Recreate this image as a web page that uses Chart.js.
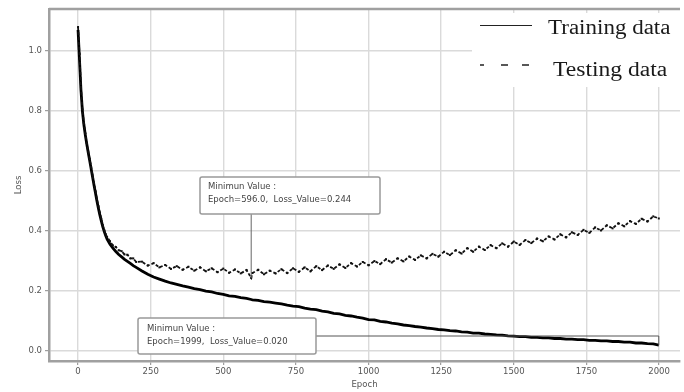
<!DOCTYPE html>
<html>
<head>
<meta charset="utf-8">
<script src="https://cdn.jsdelivr.net/npm/chart.js@4.4.1/dist/chart.umd.min.js"></script>
<style>
html,body{margin:0;padding:0;background:#fff;}
#wrap{width:684px;height:392px;position:relative;}
</style>
</head>
<body>
<div id="wrap"><canvas id="c" width="684" height="392"></canvas></div>
<script>
const epochs = [0,5,10,15,20,25,30,35,40,45,50,55,60,65,70,75,80,85,90,95,
  100,110,120,130,140,150,160,170,180,190,200,
  220,240,260,280,300,320,340,360,380,400,420,440,460,480,500,520,540,560,580,596,600,
  620,640,660,680,700,720,740,760,780,800,820,840,860,880,900,920,940,960,980,1000,
  1020,1040,1060,1080,1100,1120,1140,1160,1180,1200,1220,1240,1260,1280,1300,
  1320,1340,1360,1380,1400,1420,1440,1460,1480,1500,1520,1540,1560,1580,1600,
  1620,1640,1660,1680,1700,1720,1740,1760,1780,1800,1820,1840,1860,1880,1900,
  1920,1940,1960,1980,1999];

const trainLoss = [1.07,0.97,0.87,0.80,0.755,0.72,0.69,0.662,0.635,0.608,0.58,0.553,0.527,0.50,0.476,0.454,0.434,0.415,0.399,0.385,
  0.373,0.356,0.343,0.332,0.322,0.314,0.306,0.299,0.292,0.285,0.279,
  0.267,0.256,0.247,0.240,0.233,0.227,0.222,0.217,0.213,0.208,0.205,0.200,0.197,0.192,0.189,0.184,0.182,0.178,0.176,0.172,0.171,
  0.169,0.165,0.163,0.160,0.157,0.153,0.150,0.148,0.143,0.140,0.138,0.133,0.131,0.126,0.124,0.119,0.117,0.113,0.110,0.105,
  0.104,0.099,0.097,0.093,0.091,0.087,0.085,0.082,0.080,0.077,0.075,0.072,0.071,0.068,0.067,
  0.064,0.063,0.060,0.060,0.057,0.056,0.054,0.053,0.051,0.050,0.048,0.048,0.046,0.046,0.044,
  0.044,0.042,0.042,0.040,0.040,0.038,0.038,0.036,0.036,0.034,0.034,0.032,0.032,0.030,0.030,
  0.027,0.027,0.025,0.024,0.020];

const testLoss = [1.08,0.99,0.88,0.805,0.76,0.725,0.693,0.665,0.64,0.613,0.586,0.559,0.533,0.507,0.483,0.461,0.441,0.42,0.404,0.39,
  0.38,0.366,0.352,0.347,0.336,0.333,0.322,0.321,0.309,0.309,0.297,
  0.298,0.285,0.293,0.279,0.287,0.274,0.283,0.271,0.281,0.268,0.279,0.266,0.276,0.263,0.275,0.261,0.272,0.259,0.270,0.244,0.260,
  0.271,0.256,0.268,0.259,0.273,0.260,0.276,0.264,0.279,0.266,0.283,0.270,0.285,0.274,0.289,0.277,0.293,0.282,0.297,0.286,
  0.300,0.290,0.306,0.295,0.309,0.299,0.315,0.304,0.319,0.309,0.324,0.315,0.331,0.320,0.336,
  0.325,0.343,0.331,0.348,0.337,0.353,0.343,0.359,0.348,0.365,0.354,0.370,0.360,0.375,0.366,
  0.382,0.372,0.389,0.379,0.396,0.387,0.404,0.394,0.412,0.402,0.419,0.409,0.426,0.416,0.433,
  0.424,0.441,0.432,0.449,0.442];

const xTicks = [0,250,500,750,1000,1250,1500,1750,2000];
const yTicks = [0.0,0.2,0.4,0.6,0.8,1.0];

const minTest = {epoch:596.0, value:0.244, label1:'Minimun Value :', label2:'Epoch=596.0,  Loss_Value=0.244'};
const minTrain = {epoch:1999, value:0.020, label1:'Minimun Value :', label2:'Epoch=1999,  Loss_Value=0.020'};

const tickFont = {family:'DejaVu Sans', size:8.5};
const tickColor = '#555';

function drawBox(ctx, x, y, w, h){
  ctx.save();
  ctx.fillStyle = '#fff';
  ctx.strokeStyle = '#999';
  ctx.lineWidth = 1.5;
  ctx.beginPath();
  if (ctx.roundRect) ctx.roundRect(x, y, w, h, 2); else ctx.rect(x, y, w, h);
  ctx.fill();
  ctx.stroke();
  ctx.restore();
}

function stretchedText(ctx, text, x, y, sx){
  ctx.save();
  ctx.translate(x, y);
  ctx.scale(sx, 1);
  ctx.fillText(text, 0, 0);
  ctx.restore();
}

const overlay = {
  id:'overlay',
  beforeDraw(chart){
    const ctx = chart.ctx;
    ctx.save();
    ctx.fillStyle = '#fff';
    ctx.fillRect(0,0,chart.width,chart.height);
    ctx.restore();
  },
  afterDatasetsDraw(chart){
    const ctx = chart.ctx;
    const xs = chart.scales.x, ys = chart.scales.y;
    const ca = chart.chartArea;
    // top spine
    ctx.save();
    ctx.strokeStyle = '#a0a0a0';
    ctx.lineWidth = 2.5;
    ctx.beginPath();
    ctx.moveTo(ca.left, ca.top);
    ctx.lineTo(ca.right, ca.top);
    ctx.stroke();
    ctx.restore();

    // annotation 1 (testing min)
    const px1 = xs.getPixelForValue(minTest.epoch);
    const py1 = ys.getPixelForValue(minTest.value);
    ctx.save();
    ctx.strokeStyle = '#666';
    ctx.lineWidth = 1;
    ctx.beginPath();
    ctx.moveTo(px1, 214);
    ctx.lineTo(px1, py1);
    ctx.stroke();
    ctx.restore();
    drawBox(ctx, 200, 177, 180, 37);
    ctx.save();
    ctx.fillStyle = '#444';
    ctx.font = '8.5px "DejaVu Sans"';
    ctx.textBaseline = 'middle';
    ctx.fillText(minTest.label1, 208, 187);
    ctx.fillText(minTest.label2, 208, 200);
    ctx.restore();

    // annotation 2 (training min)
    const px2 = xs.getPixelForValue(minTrain.epoch);
    const py2 = ys.getPixelForValue(minTrain.value);
    ctx.save();
    ctx.strokeStyle = '#555';
    ctx.lineWidth = 1;
    ctx.beginPath();
    ctx.moveTo(316, 336);
    ctx.lineTo(px2, 336);
    ctx.lineTo(px2, py2);
    ctx.stroke();
    ctx.restore();
    drawBox(ctx, 138, 318, 178, 36);
    ctx.save();
    ctx.fillStyle = '#444';
    ctx.font = '8.5px "DejaVu Sans"';
    ctx.textBaseline = 'middle';
    ctx.fillText(minTrain.label1, 147, 329);
    ctx.fillText(minTrain.label2, 147, 342);
    ctx.restore();

    // legend
    ctx.save();
    ctx.fillStyle = '#fff';
    ctx.fillRect(472, 13, 212, 74);
    ctx.strokeStyle = '#222';
    ctx.lineWidth = 1.2;
    ctx.beginPath();
    ctx.moveTo(480, 25.5);
    ctx.lineTo(532, 25.5);
    ctx.stroke();
    ctx.lineWidth = 1.6;
    ctx.beginPath();
    ctx.moveTo(480, 65); ctx.lineTo(484, 65);
    ctx.moveTo(501, 65); ctx.lineTo(508, 65);
    ctx.moveTo(522, 65); ctx.lineTo(529, 65);
    ctx.stroke();
    ctx.fillStyle = '#1a1a1a';
    ctx.font = '20px "Liberation Serif"';
    ctx.textBaseline = 'alphabetic';
    stretchedText(ctx, chart.data.datasets[0].label, 548, 34, 1.15);
    stretchedText(ctx, chart.data.datasets[1].label, 553, 76, 1.18);
    ctx.restore();
  }
};

new Chart(document.getElementById('c'), {
  type:'line',
  data:{
    datasets:[
      {label:'Training data', data: epochs.map((e,i)=>({x:e,y:trainLoss[i]})),
       borderColor:'#000', backgroundColor:'#000', borderWidth:2.8, pointRadius:0, tension:0, order:1},
      {label:'Testing data', data: epochs.map((e,i)=>({x:e,y:testLoss[i]})),
       borderColor:'#111', backgroundColor:'#111', borderWidth:1.8, borderDash:[3,2],
       pointRadius:1.4, pointStyle:'rect', pointBorderWidth:0, tension:0, order:0}
    ]
  },
  options:{
    responsive:false,
    animation:false,
    devicePixelRatio:1,
    layout:{padding:{top:9,left:0,right:0,bottom:0}},
    plugins:{legend:{display:false}, tooltip:{enabled:false}},
    scales:{
      x:{
        type:'linear', min:-100, max:2072,
        afterBuildTicks(s){ s.ticks = xTicks.map(v=>({value:v})); },
        afterFit(s){ s.height = 31; },
        ticks:{font:tickFont, color:tickColor, padding:2, maxRotation:0, autoSkip:false, callback:(v)=>String(v)},
        grid:{color:'#dadada', lineWidth:1.4, tickLength:4, tickColor:'#888', tickWidth:1},
        border:{display:true, color:'#a0a0a0', width:2.5},
        title:{display:true, text:'Epoch', font:tickFont, color:tickColor, padding:{top:0,bottom:2}}
      },
      y:{
        type:'linear', min:-0.033, max:1.14,
        afterBuildTicks(s){ s.ticks = yTicks.map(v=>({value:v})); },
        afterFit(s){ s.width = 49; },
        ticks:{font:tickFont, color:tickColor, padding:3, callback:(v)=>v.toFixed(1)},
        grid:{color:'#dadada', lineWidth:1.4, tickLength:4, tickColor:'#888', tickWidth:1},
        border:{display:true, color:'#a0a0a0', width:2.5},
        title:{display:true, text:'Loss', font:tickFont, color:tickColor, padding:{top:14,bottom:0}}
      }
    }
  },
  plugins:[overlay]
});
</script>
</body>
</html>
